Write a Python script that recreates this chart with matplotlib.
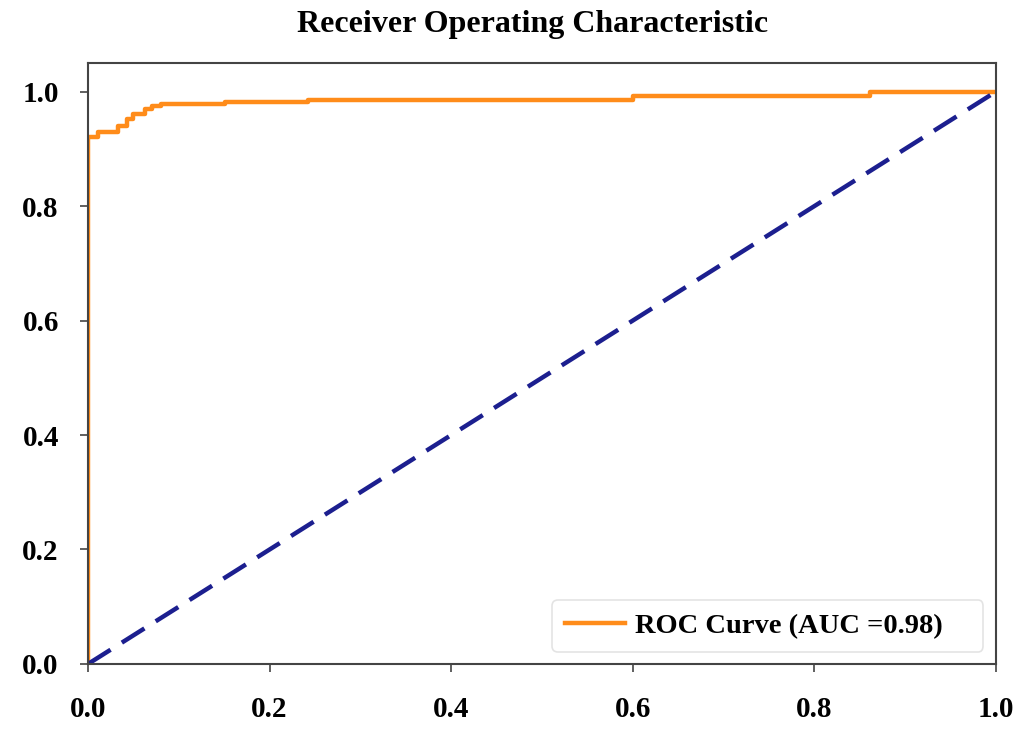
import matplotlib.pyplot as plt
import matplotlib

matplotlib.rcParams["font.family"] = "Liberation Serif"
matplotlib.rcParams["font.weight"] = "bold"

# ROC curve points
fpr = [0.0, 0.0, 0.0, 0.011, 0.011, 0.028, 0.033, 0.033, 0.043, 0.043, 0.049, 0.049,
       0.063, 0.063, 0.071, 0.071, 0.080, 0.080, 0.151, 0.151, 0.242, 0.242, 0.60, 0.60,
       0.861, 0.861, 1.0]
tpr = [0.0, 0.862, 0.921, 0.921, 0.930, 0.930, 0.930, 0.940, 0.940, 0.953, 0.953, 0.961,
       0.961, 0.970, 0.970, 0.975, 0.975, 0.979, 0.979, 0.982, 0.982, 0.986, 0.986, 0.993,
       0.993, 1.0, 1.0]
auc_value = 0.98
chance_x = [0, 1]
chance_y = [0, 1]

fig = plt.figure(figsize=(10.21, 7.31), dpi=100)
ax = fig.add_axes([0.0862, 0.0917, 0.8893, 0.8221])

ax.plot(fpr, tpr, color='#ff8c1a', lw=3.2, label=f'ROC Curve (AUC ={auc_value})')
ax.plot(chance_x, chance_y, color='#1c1f8f', lw=3.2, linestyle=(0, (6, 3)))

ax.set_xlim(0, 1)
ax.set_ylim(0, 1.05)
ax.set_xticks([0.0, 0.2, 0.4, 0.6, 0.8, 1.0])
ax.set_yticks([0.0, 0.2, 0.4, 0.6, 0.8, 1.0])
ax.tick_params(axis='both', labelsize=21, length=6, width=1.2, color='#444444')
ax.tick_params(axis='y', pad=15)
ax.tick_params(axis='x', pad=17)
for s in ax.spines.values():
    s.set_linewidth(1.5)
    s.set_color('#444444')

ax.set_title('Receiver Operating Characteristic', fontsize=23, fontweight='bold', pad=22, x=0.49)

# legend box stretched, text left-aligned with free space on the right
leg = ax.legend(loc='lower left', bbox_to_anchor=(0.511, 0.02, 0.475, 0.08), mode='expand',
                fontsize=20.5, frameon=True, fancybox=True, borderaxespad=0,
                handlelength=2.1, handletextpad=0.35, borderpad=0.45)
leg.get_frame().set_edgecolor('#dddddd')
leg.get_frame().set_linewidth(1.2)

fig.savefig('out.png', dpi=100)
